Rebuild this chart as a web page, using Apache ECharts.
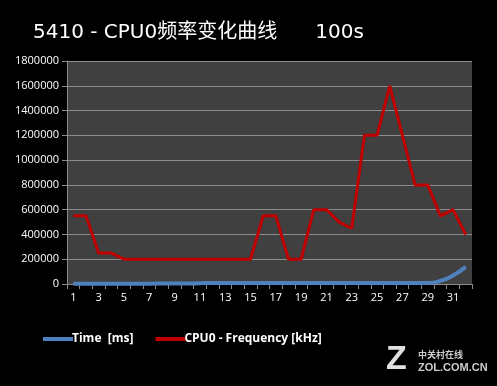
<!DOCTYPE html>
<html><head><meta charset="utf-8">
<script src="https://cdn.jsdelivr.net/npm/echarts@6/dist/echarts.min.js"></script>
<style>html,body{margin:0;padding:0;background:#000;}#c{width:497px;height:386px;}</style>
</head><body><div id="c"></div>
<script>
const categories = ['1','2','3','4','5','6','7','8','9','10','11','12','13','14','15','16','17','18','19','20','21','22','23','24','25','26','27','28','29','30','31','32'];
const timeMs = [2000,3000,3000,3000,3000,3000,3000,4000,4000,4000,6000,8000,8000,9000,9000,9000,9000,9000,9000,9000,9000,9000,9000,9000,9000,9000,9000,9000,9000,25000,68000,138000];
const cpu0Freq = [550000,550000,250000,250000,200000,200000,200000,200000,200000,200000,200000,200000,200000,200000,200000,550000,550000,200000,200000,600000,600000,500000,450000,1200000,1200000,1600000,1200000,800000,800000,550000,600000,400000];
const yTicks = [0,200000,400000,600000,800000,1000000,1200000,1400000,1600000,1800000];

const chart = echarts.init(document.getElementById('c'));
chart.setOption({
  backgroundColor: '#000',
  animation: false,
  title: {
    text: '5410 - CPU0频率变化曲线      100s',
    left: 28, top: 18,
    textStyle: { color: '#fff', fontSize: 20, fontWeight: 'normal', fontFamily: '"DejaVu Sans", "Noto Sans CJK SC", sans-serif' }
  },
  legend: {
    bottom: 36, left: 38,
    itemWidth: 30, itemHeight: 4, itemGap: 22,
    icon: 'rect',
    textStyle: { color: '#fff', fontSize: 12, fontWeight: 'bold', fontFamily: '"Open Sans", "Liberation Sans", sans-serif', padding: [0,0,0,-6] },
    data: ['Time  [ms]', 'CPU0 - Frequency [kHz]']
  },
  grid: { left: 67, right: 25, top: 61, bottom: 102, backgroundColor: '#404040', show: true, borderWidth: 0 },
  xAxis: {
    type: 'category', data: categories, boundaryGap: true,
    axisLine: { lineStyle: { color: '#8c8c8c' } },
    axisTick: { show: true, interval: 0, length: 5, lineStyle: { color: '#8c8c8c' } },
    axisLabel: { color: '#fff', fontSize: 11, interval: 1, margin: 8, fontFamily: '"Open Sans", "Liberation Sans", sans-serif' }
  },
  yAxis: {
    type: 'value', min: yTicks[0], max: yTicks[yTicks.length-1], interval: 200000,
    axisLine: { show: true, lineStyle: { color: '#8c8c8c' } },
    axisTick: { show: true, length: 5, lineStyle: { color: '#8c8c8c' } },
    axisLabel: { color: '#fff', fontSize: 11, margin: 8, formatter: v => String(v), fontFamily: '"Open Sans", "Liberation Sans", sans-serif' },
    splitLine: { lineStyle: { color: '#8c8c8c', width: 1 } }
  },
  series: [
    { name: 'Time  [ms]', type: 'line', data: timeMs, smooth: true, symbol: 'none',
      lineStyle: { color: '#4f81bd', width: 4 }, itemStyle: { color: '#4f81bd' } },
    { name: 'CPU0 - Frequency [kHz]', type: 'line', data: cpu0Freq, symbol: 'none',
      lineStyle: { color: '#c00000', width: 3 }, itemStyle: { color: '#c00000' } }
  ],
  graphic: [
    { type: 'text', left: 386, top: 343, style: { text: 'Z', fill: '#e0e0e0', font: 'bold 34px "Liberation Sans", sans-serif' } },
    { type: 'text', left: 418, top: 350, style: { text: '中关村在线', fill: '#ccc', font: 'bold 9px "Noto Sans CJK SC", sans-serif' } },
    { type: 'text', left: 418, top: 362, style: { text: 'ZOL.COM.CN', fill: '#ccc', font: 'bold 11px "Liberation Sans", sans-serif' } }
  ]
});
</script></body></html>
